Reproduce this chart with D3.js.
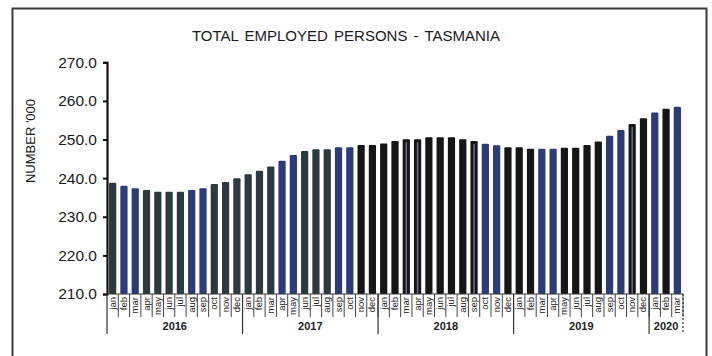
<!DOCTYPE html>
<html>
<head>
<meta charset="utf-8">
<script src="https://cdn.jsdelivr.net/npm/d3@7"></script>
<style>
  html, body { margin: 0; padding: 0; background: #ffffff; }
  svg { display: block; font-family: "Liberation Sans", Arial, sans-serif; }
</style>
</head>
<body>
<svg id="chart" width="712" height="356"></svg>
<script>
// Total employed persons, Tasmania ('000), monthly Jan 2016 - Mar 2020
const years = ["2016", "2017", "2018", "2019", "2020"];
const monthNames = ["jan", "feb", "mar", "apr", "may", "jun", "jul", "aug", "sep", "oct", "nov", "dec"];
const monthsPerYear = [12, 12, 12, 12, 3];
const employed = [
  238.8, 238.0, 237.4, 236.9, 236.5, 236.5, 236.5, 236.9, 237.4, 238.5, 239.0, 240.0,
  241.0, 241.9, 243.0, 244.5, 246.0, 247.0, 247.5, 247.5, 248.0, 248.0, 248.6, 248.6,
  249.0, 249.6, 250.1, 250.1, 250.6, 250.6, 250.6, 250.1, 249.6, 248.9, 248.5, 248.0,
  248.0, 247.6, 247.6, 247.6, 247.9, 247.9, 248.6, 249.5, 251.0, 252.5, 254.0, 255.5,
  257.0, 258.0, 258.5
];
const yTicks = [210, 220, 230, 240, 250, 260, 270];

// Bar shading: s = slate, b = blue, k = black, g = black with grey core
const barTone = [
  "s","b","b","s","s","s","s","b","b","s","s","s",
  "s","s","s","b","b","s","s","s","b","b","k","k",
  "k","k","g","g","k","k","k","k","g","b","b","k",
  "k","k","b","b","k","k","k","k","b","b","g","k",
  "b","k","b"
];
const toneFill = { s: "#2c3a40", b: "#2d3b78", k: "#161616", g: "#161616" };

// Category keys and labels built from the arrays above
const cats = [];
years.forEach((yr, yi) => {
  for (let m = 0; m < monthsPerYear[yi]; m++) cats.push({ key: yr + "-" + m, year: yr, month: monthNames[m] });
});

const svg = d3.select("#chart");

// Outer frame
svg.append("rect")
  .attr("x", 12.5).attr("y", 8.5).attr("width", 694).attr("height", 360)
  .attr("fill", "none").attr("stroke", "#3a3a3a").attr("stroke-width", 2);

// Title
svg.append("text")
  .attr("x", 346).attr("y", 41)
  .attr("text-anchor", "middle")
  .attr("font-size", 15).attr("fill", "#1a1a1a")
  .attr("word-spacing", 2)
  .text("TOTAL EMPLOYED PERSONS - TASMANIA");

const x = d3.scaleBand()
  .domain(cats.map(c => c.key))
  .range([107, 683])
  .paddingInner(0.36)
  .paddingOuter(0.18);

const y = d3.scaleLinear().domain([210, 270]).range([294, 62.3]);

// Y axis
const yAxis = d3.axisLeft(y)
  .tickValues(yTicks)
  .tickFormat(d3.format(".1f"))
  .tickSize(4)
  .tickPadding(6);

const gy = svg.append("g").attr("transform", "translate(107,0)").call(yAxis);
gy.select(".domain").attr("stroke", "#111").attr("stroke-width", 2.2);
gy.selectAll(".tick line").attr("stroke", "#111").attr("stroke-width", 2);
gy.selectAll(".tick text")
  .attr("font-size", 15.5).attr("fill", "#1a1a1a")
  .attr("font-family", "Liberation Sans, Arial, sans-serif");

// Y axis title
svg.append("text")
  .attr("transform", "translate(35,141) rotate(-90)")
  .attr("text-anchor", "middle")
  .attr("font-size", 13).attr("fill", "#1a1a1a")
  .text("NUMBER '000");

// Bars
svg.append("g")
  .selectAll("rect")
  .data(cats)
  .join("rect")
  .attr("x", d => x(d.key))
  .attr("width", x.bandwidth())
  .attr("y", (d, i) => y(employed[i]))
  .attr("height", (d, i) => y(210) - y(employed[i]))
  .attr("rx", 1)
  .attr("fill", (d, i) => toneFill[barTone[i]]);

// Grey core lines on some bars
svg.append("g")
  .selectAll("line")
  .data(cats.filter((d, i) => barTone[i] === "g"))
  .join("line")
  .attr("x1", d => x(d.key) + x.bandwidth() / 2)
  .attr("x2", d => x(d.key) + x.bandwidth() / 2)
  .attr("y1", d => y(employed[cats.indexOf(d)]) + 3)
  .attr("y2", 294)
  .attr("stroke", "#6a6f90").attr("stroke-width", 1.5);

// X axis baseline
svg.append("line")
  .attr("x1", 107).attr("x2", 683).attr("y1", 294).attr("y2", 294)
  .attr("stroke", "#333").attr("stroke-width", 1);

// Month separators and labels
const step = x.step();
const xg = svg.append("g");
xg.selectAll("line.m")
  .data(cats)
  .join("line")
  .attr("class", "m")
  .attr("x1", d => x(d.key) + x.bandwidth() / 2 + step / 2)
  .attr("x2", d => x(d.key) + x.bandwidth() / 2 + step / 2)
  .attr("y1", 294).attr("y2", 317)
  .attr("stroke", "#444").attr("stroke-width", 1);

xg.selectAll("text.m")
  .data(cats)
  .join("text")
  .attr("class", "m")
  .attr("transform", d => `translate(${x(d.key) + x.bandwidth() / 2 + 3},297) rotate(-90)`)
  .attr("text-anchor", "end")
  .attr("font-size", 9.5).attr("fill", "#222")
  .text(d => d.month);

// Year separators and labels
let start = 0;
const yearSpans = years.map((yr, yi) => {
  const first = cats[start], last = cats[start + monthsPerYear[yi] - 1];
  start += monthsPerYear[yi];
  return {
    year: yr,
    x0: x(first.key) + x.bandwidth() / 2 - step / 2,
    x1: x(last.key) + x.bandwidth() / 2 + step / 2
  };
});

xg.selectAll("line.y")
  .data(yearSpans)
  .join("line")
  .attr("class", "y")
  .attr("x1", d => d.x0).attr("x2", d => d.x0)
  .attr("y1", 294).attr("y2", 334)
  .attr("stroke", "#333").attr("stroke-width", 1.2);

xg.append("line")
  .attr("x1", yearSpans[yearSpans.length - 1].x1)
  .attr("x2", yearSpans[yearSpans.length - 1].x1)
  .attr("y1", 294).attr("y2", 334)
  .attr("stroke", "#333").attr("stroke-width", 1.2)
  .attr("stroke-dasharray", "2,2");

xg.selectAll("text.y")
  .data(yearSpans)
  .join("text")
  .attr("class", "y")
  .attr("x", d => (d.x0 + d.x1) / 2)
  .attr("y", 330)
  .attr("text-anchor", "middle")
  .attr("font-size", 11).attr("font-weight", "bold").attr("fill", "#222")
  .text(d => d.year);
</script>
</body>
</html>
